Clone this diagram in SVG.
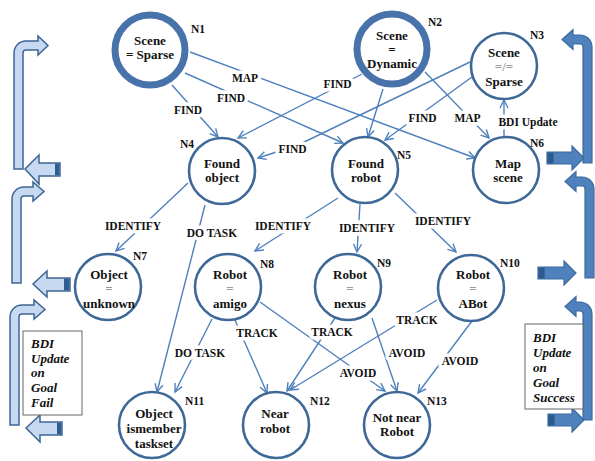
<svg xmlns="http://www.w3.org/2000/svg" width="595" height="461" viewBox="0 0 595 461">
<defs>
<marker id="ah" markerUnits="userSpaceOnUse" markerWidth="12" markerHeight="12" refX="9" refY="5" orient="auto">
<path d="M1,1 L9,5 L1,9" fill="none" stroke="#4f81bd" stroke-width="1.4"/>
</marker>
<style>
.node circle{fill:#fff;stroke:#3e6898;stroke-width:2.6}
.node circle.thick{stroke:#4773aa;stroke-width:7}
.nt{font-family:"Liberation Serif","Times New Roman",serif;font-weight:bold;font-size:13px;fill:#111;text-anchor:middle}
.g{fill:#9a9a9a}
.nl{font-family:"Liberation Serif","Times New Roman",serif;font-weight:bold;font-size:11.5px;fill:#111}
.e{fill:none;stroke:#4f81bd;stroke-width:1.4;marker-end:url(#ah)}
.el{font-family:"Liberation Serif","Times New Roman",serif;font-weight:bold;font-size:11.5px;fill:#111;text-anchor:middle;stroke:#fff;stroke-width:7;stroke-linejoin:round;paint-order:stroke}
.lb{fill:#c6d9f1;stroke:#3d6594;stroke-width:1.5}
.rb{fill:#4f81bd;stroke:#3c6a9f;stroke-width:1.2}
.ldk{fill:#2f5d93}
.rdk{fill:#2c5a8e}
.box{fill:#fff;stroke:#666;stroke-width:1}
.bt{font-family:"Liberation Serif","Times New Roman",serif;font-style:italic;font-weight:bold;font-size:13px;fill:#111}
</style>
</defs>
<rect width="595" height="461" fill="#fff"/>

<g id="side-arrows">
<!-- left -->
<path class="lb" d="M14,169 L14,53 A12,12 0 0 1 26,41 L38,41 L38,36 L48,45.5 L38,55 L38,50 L26,50 A3,3 0 0 0 23,53 L23,169 Z"/>
<path class="lb" d="M25,169 L39,155 L39,163 L60,163 L60,176 L39,176 L39,184 Z"/>
<rect class="ldk" x="55" y="163.7" width="4.3" height="11.6"/>
<path class="lb" d="M12,283 L12,199 A12,12 0 0 1 24,187 L33,187 L33,182 L44,191.5 L33,201 L33,196 L24,196 A3,3 0 0 0 21,199 L21,283 Z"/>
<path class="lb" d="M33,284 L47,271 L47,278 L70,278 L70,291 L47,291 L47,297 Z"/>
<rect class="ldk" x="64" y="278.7" width="5.3" height="11.6"/>
<path class="lb" d="M10,425 L10,317 A12,12 0 0 1 22,305 L34,305 L34,300 L45,309.5 L34,319 L34,314 L22,314 A3,3 0 0 0 19,317 L19,425 Z"/>
<path class="lb" d="M26,428 L40,415 L40,422 L62,422 L62,435 L40,435 L40,442 Z"/>
<rect class="ldk" x="57" y="422.7" width="4.3" height="11.6"/>
<!-- right -->
<path class="rb" d="M592,163 L592,47 A12,12 0 0 0 580,35 L573,35 L573,29.5 L562,39.5 L573,49.5 L573,44 L580,44 A3,3 0 0 1 583,47 L583,163 Z"/>
<path class="rb" d="M584,158 L572,146 L572,152 L547,152 L547,164 L572,164 L572,170 Z"/>
<rect class="rdk" x="547.6" y="152.6" width="6" height="10.8"/>
<path class="rb" d="M594,278 L594,189 A12,12 0 0 0 582,177 L576,177 L576,171.5 L565,181.5 L576,191.5 L576,186 L582,186 A3,3 0 0 1 585,189 L585,278 Z"/>
<path class="rb" d="M576,273 L564,261 L564,267 L538,267 L538,279 L564,279 L564,285 Z"/>
<rect class="rdk" x="538.6" y="267.6" width="6" height="10.8"/>
<path class="rb" d="M592,420 L592,314 A12,12 0 0 0 580,302 L576,302 L576,296.5 L565,306.5 L576,316.5 L576,311 L580,311 A3,3 0 0 1 583,314 L583,420 Z"/>
<path class="rb" d="M584,420 L572,408 L572,414 L548,414 L548,426 L572,426 L572,432 Z"/>
<rect class="rdk" x="548.6" y="414.6" width="6" height="10.8"/>
</g>

<g id="note-fail">
<rect class="box" x="23" y="331" width="59" height="84"/>
<text class="bt" x="31" y="347.5">BDI</text>
<text class="bt" x="31" y="362.5">Update</text>
<text class="bt" x="31" y="377">on</text>
<text class="bt" x="31" y="392">Goal</text>
<text class="bt" x="31" y="407">Fail</text>
</g>
<g id="note-success">
<rect class="box" x="525" y="324" width="58" height="85"/>
<text class="bt" x="533" y="341.5">BDI</text>
<text class="bt" x="533" y="357">Update</text>
<text class="bt" x="533" y="372">on</text>
<text class="bt" x="533" y="387">Goal</text>
<text class="bt" x="533" y="401.5">Success</text>
</g>

<g id="connectors">
<line class="e" x1="172" y1="85" x2="218" y2="137"/>
<line class="e" x1="185" y1="73" x2="343" y2="143"/>
<line class="e" x1="190" y1="52" x2="475" y2="158"/>
<line class="e" x1="362" y1="74" x2="238" y2="138"/>
<line class="e" x1="383" y1="89" x2="368" y2="137"/>
<line class="e" x1="425" y1="72" x2="489" y2="138"/>
<polyline class="e" points="470,62 298,145 258,158"/>
<line class="e" x1="472" y1="77" x2="385" y2="140"/>
<line class="e" x1="504" y1="136" x2="504" y2="100"/>
<line class="e" x1="188" y1="183" x2="116" y2="251"/>
<line class="e" x1="205" y1="205" x2="157" y2="392"/>
<line class="e" x1="338" y1="198" x2="255" y2="251"/>
<line class="e" x1="360" y1="204" x2="357" y2="252"/>
<line class="e" x1="395" y1="193" x2="456" y2="252"/>
<line class="e" x1="212" y1="319" x2="175" y2="392"/>
<line class="e" x1="235" y1="320" x2="267" y2="393"/>
<line class="e" x1="260" y1="302" x2="385" y2="391"/>
<line class="e" x1="335" y1="318" x2="287" y2="391"/>
<line class="e" x1="372" y1="318" x2="397" y2="391"/>
<line class="e" x1="437" y1="300" x2="290" y2="390"/>
<line class="e" x1="472" y1="321" x2="418" y2="393"/>
<text class="el" x="188" y="114">FIND</text>
<text class="el" x="231" y="101.5">FIND</text>
<text class="el" x="245" y="82">MAP</text>
<text class="el" x="337.5" y="87.5">FIND</text>
<text class="el" x="467.5" y="121.5">MAP</text>
<text class="el" x="292.5" y="153">FIND</text>
<text class="el" x="422.5" y="121.5">FIND</text>
<text class="el" x="528" y="126">BDI Update</text>
<text class="el" x="133" y="230">IDENTIFY</text>
<text class="el" x="212" y="237">DO TASK</text>
<text class="el" x="283" y="230">IDENTIFY</text>
<text class="el" x="367" y="232">IDENTIFY</text>
<text class="el" x="443" y="225">IDENTIFY</text>
<text class="el" x="200" y="357">DO TASK</text>
<text class="el" x="257" y="337">TRACK</text>
<text class="el" x="358" y="377">AVOID</text>
<text class="el" x="332" y="336">TRACK</text>
<text class="el" x="407" y="357">AVOID</text>
<text class="el" x="417" y="324">TRACK</text>
<text class="el" x="460" y="365">AVOID</text>
</g>

<g id="N1" class="node"><circle class="thick" cx="150" cy="50" r="35"/>
<text class="nt" x="150" y="44.5">Scene</text><text class="nt" x="150" y="59">= Sparse</text>
<text class="nl" x="191" y="33">N1</text></g>
<g id="N2" class="node"><circle class="thick" cx="392" cy="49" r="35"/>
<text class="nt" x="392" y="39.5">Scene</text><text class="nt" x="392" y="53.5">=</text><text class="nt" x="392" y="68">Dynamic</text>
<text class="nl" x="428" y="26">N2</text></g>
<g id="N3" class="node"><circle cx="504" cy="66" r="33"/>
<text class="nt" x="504" y="56.5">Scene</text><text class="nt g" x="504" y="71">=/=</text><text class="nt" x="504" y="86">Sparse</text>
<text class="nl" x="530" y="39">N3</text></g>
<g id="N4" class="node"><circle cx="222" cy="171" r="33"/>
<text class="nt" x="222" y="167.5">Found</text><text class="nt" x="222" y="181.5">object</text>
<text class="nl" x="180" y="148">N4</text></g>
<g id="N5" class="node"><circle cx="365" cy="170" r="33"/>
<text class="nt" x="366" y="167.5">Found</text><text class="nt" x="366" y="181.5">robot</text>
<text class="nl" x="397" y="159">N5</text></g>
<g id="N6" class="node"><circle cx="506" cy="170" r="33"/>
<text class="nt" x="508" y="167.5">Map</text><text class="nt" x="508" y="181.5">scene</text>
<text class="nl" x="530" y="147">N6</text></g>
<g id="N7" class="node"><circle cx="108" cy="287" r="33"/>
<text class="nt" x="109" y="278.5">Object</text><text class="nt g" x="109" y="292.5">=</text><text class="nt" x="109" y="307.5">unknown</text>
<text class="nl" x="133" y="260">N7</text></g>
<g id="N8" class="node"><circle cx="228" cy="287" r="33"/>
<text class="nt" x="230" y="278.5">Robot</text><text class="nt g" x="230" y="293">=</text><text class="nt" x="230" y="307.5">amigo</text>
<text class="nl" x="260" y="268">N8</text></g>
<g id="N9" class="node"><circle cx="348" cy="287" r="33"/>
<text class="nt" x="350" y="278.5">Robot</text><text class="nt g" x="350" y="293">=</text><text class="nt" x="350" y="307.5">nexus</text>
<text class="nl" x="377" y="267">N9</text></g>
<g id="N10" class="node"><circle cx="471" cy="288" r="33"/>
<text class="nt" x="473" y="278.5">Robot</text><text class="nt g" x="473" y="293">=</text><text class="nt" x="473" y="307.5">ABot</text>
<text class="nl" x="500" y="267">N10</text></g>
<g id="N11" class="node"><circle cx="152" cy="425" r="33"/>
<text class="nt" x="154" y="417.5">Object</text><text class="nt" x="154" y="432.5">ismember</text><text class="nt" x="154" y="447.5">taskset</text>
<text class="nl" x="185" y="405">N11</text></g>
<g id="N12" class="node"><circle cx="276" cy="425" r="33"/>
<text class="nt" x="275" y="417.5">Near</text><text class="nt" x="275" y="432.5">robot</text>
<text class="nl" x="310" y="405">N12</text></g>
<g id="N13" class="node"><circle cx="397" cy="425" r="33"/>
<text class="nt" x="397" y="421.5">Not near</text><text class="nt" x="397" y="435.5">Robot</text>
<text class="nl" x="427" y="405">N13</text></g>
</svg>
